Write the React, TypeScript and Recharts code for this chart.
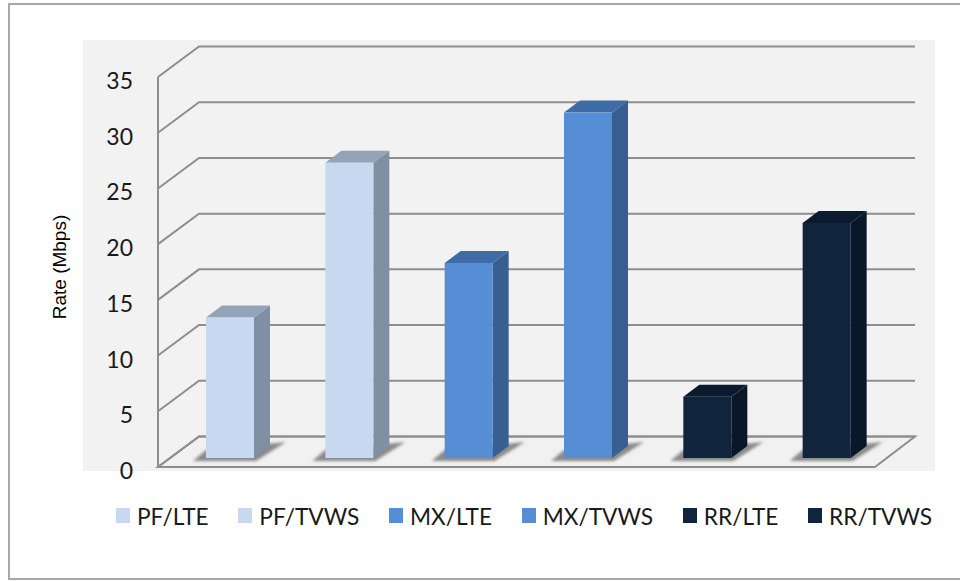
import { BarChart, Bar, XAxis, YAxis, CartesianGrid, Legend, Cell } from 'recharts';

const categories = ['PF/LTE', 'PF/TVWS', 'MX/LTE', 'MX/TVWS', 'RR/LTE', 'RR/TVWS'];
const rates = [12.6, 26.5, 17.5, 31, 5.5, 21.1];
const yTicks = [0, 5, 10, 15, 20, 25, 30, 35];

const frontColors = ['#c6d9f1', '#c6d9f1', '#558ed5', '#558ed5', '#10243e', '#10243e'];
const sideColors = ['#7f90a3', '#7f90a3', '#375f91', '#375f91', '#0a1728', '#0a1728'];
const topColors = ['#94a4b8', '#94a4b8', '#3f6ca6', '#3f6ca6', '#0b1a2e', '#0b1a2e'];

const chartData = categories.map((category, i) => ({ category, rate: rates[i] }));

const GRID_COLOR = '#8e8e8e';
const TEXT_COLOR = '#1a1a1a';

// Offsets of the pseudo-3D box: walls are sheared back from the front plane
const WALL_DX = 41;
const WALL_DY = 30.5;
const FRONT_DROP = 9;
const FRONT_LEFT = 158;
const FLOOR_WIDTH = 717;
const BACK_RIGHT = 915;
const BAR_DX = 16;
const BAR_DY = 12;

// Gridline running along the left wall and then the back wall
const WallLine = ({ y1, y, height }: any) => {
  const frontY = y1 + FRONT_DROP;
  const backY = frontY - WALL_DY;
  const backX = FRONT_LEFT + WALL_DX;
  const isFloor = y1 === y + height;
  const isTop = y1 === y;
  return (
    <g>
      {isFloor && (
        <polygon
          points={`${FRONT_LEFT},${frontY} ${FRONT_LEFT + FLOOR_WIDTH},${frontY} ${BACK_RIGHT},${backY} ${backX},${backY}`}
          fill="#f1f1f1"
          stroke={GRID_COLOR}
          strokeWidth={2}
        />
      )}
      {isTop && (
        <line x1={FRONT_LEFT} y1={frontY} x2={FRONT_LEFT} y2={frontY + height} stroke={GRID_COLOR} strokeWidth={2} />
      )}
      <polyline
        points={`${FRONT_LEFT},${frontY} ${backX},${backY} ${BACK_RIGHT},${backY}`}
        fill="none"
        stroke={GRID_COLOR}
        strokeWidth={2}
      />
    </g>
  );
};

const WallTick = ({ y, payload }: any) => (
  <text x={133} y={y + FRONT_DROP + 12} textAnchor="end" fontFamily="Lato" fontSize={23} fill={TEXT_COLOR}>
    {payload.value}
  </text>
);

// Bar with a side face, a top face and a soft shadow on the floor
const Box3D = ({ x, y, width, height, index }: any) => {
  const right = x + width;
  const base = y + height;
  return (
    <g>
      <polygon
        points={`${x - 13},${base + 3} ${right + 2},${base + 3} ${right + 32},${base - 16} ${x},${base - 8}`}
        fill="#8a8a8a"
        filter="url(#floorShadow)"
      />
      <polygon
        points={`${right},${y} ${right + BAR_DX},${y - BAR_DY} ${right + BAR_DX},${base - BAR_DY} ${right},${base}`}
        fill={sideColors[index]}
      />
      <polygon
        points={`${x},${y} ${x + BAR_DX},${y - BAR_DY} ${right + BAR_DX},${y - BAR_DY} ${right},${y}`}
        fill={topColors[index]}
      />
      <rect x={x} y={y} width={width} height={height} fill={frontColors[index]} />
    </g>
  );
};

const LegendRow = () => (
  <div style={{ display: 'flex', columnGap: 29.6, fontFamily: 'Lato', fontSize: 22.7, color: TEXT_COLOR, whiteSpace: 'nowrap' }}>
    {categories.map((name, i) => (
      <div key={name} style={{ display: 'flex', alignItems: 'center', columnGap: 7 }}>
        <span style={{ width: 14, height: 15, background: frontColors[i], display: 'block', marginTop: -2 }} />
        {name}
      </div>
    ))}
  </div>
);

export default function App() {
  return (
    <div style={{ position: 'absolute', left: 0, top: 0, width: 960, height: 581, background: '#fff', overflow: 'hidden' }}>
      <div style={{ position: 'absolute', left: 8, top: 3, width: 960, height: 577, boxSizing: 'border-box', border: '2px solid #a8a8a8' }} />
      <div style={{ position: 'absolute', left: 83, top: 40, width: 852, height: 431, background: '#f2f2f2' }} />
      <div style={{ position: 'absolute', left: 0, top: 0 }}>
        <BarChart width={960} height={581} data={chartData} margin={{ top: 68, right: 74, bottom: 123, left: 0 }}>
          <defs>
            <filter id="floorShadow" x="-20%" y="-40%" width="140%" height="180%">
              <feGaussianBlur stdDeviation="1.6" />
            </filter>
          </defs>
          <CartesianGrid vertical={false} horizontal={<WallLine />} />
          <XAxis dataKey="category" hide />
          <YAxis
            width={170}
            domain={[0, 35]}
            ticks={yTicks}
            interval={0}
            axisLine={false}
            tickLine={false}
            tick={<WallTick />}
            label={{
              value: 'Rate (Mbps)',
              angle: -90,
              position: 'insideLeft',
              offset: 59,
              dy: 4,
              fontSize: 19,
              fontFamily: 'Liberation Sans',
              fill: '#000',
              style: { textAnchor: 'middle' },
            }}
          />
          <Legend
            layout="horizontal"
            verticalAlign="middle"
            content={<LegendRow />}
            wrapperStyle={{ left: 116, top: 503, width: 830 }}
          />
          <Bar dataKey="rate" barSize={48} isAnimationActive={false} shape={<Box3D />}>
            {categories.map((name, i) => (
              <Cell key={name} fill={frontColors[i]} />
            ))}
          </Bar>
        </BarChart>
      </div>
    </div>
  );
}
